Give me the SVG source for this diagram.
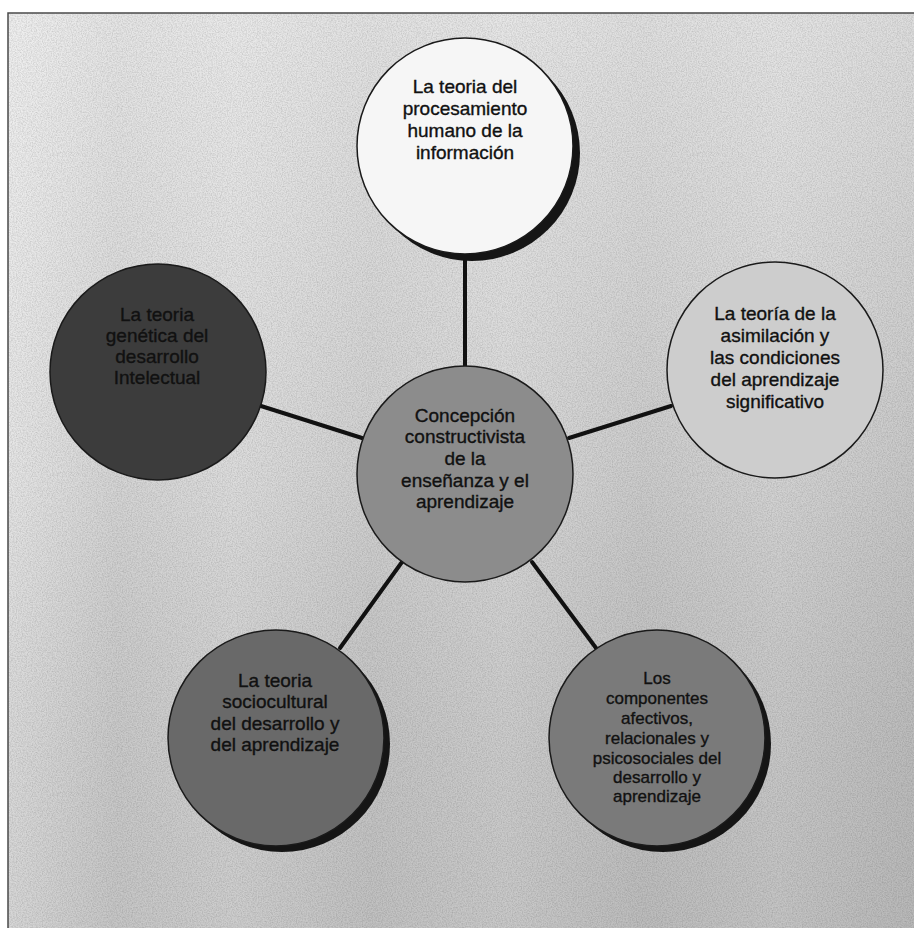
<svg xmlns="http://www.w3.org/2000/svg" width="914" height="928" viewBox="0 0 914 928">
<defs>
<linearGradient id="bg" x1="0" y1="0" x2="1" y2="0">
<stop offset="0" stop-color="#e2e2e2"/>
<stop offset="0.12" stop-color="#d0d0d0"/>
<stop offset="0.25" stop-color="#d8d8d8"/>
<stop offset="0.4" stop-color="#cbcbcb"/>
<stop offset="0.55" stop-color="#d3d3d3"/>
<stop offset="0.7" stop-color="#c6c6c6"/>
<stop offset="0.85" stop-color="#cecece"/>
<stop offset="1" stop-color="#c2c2c2"/>
</linearGradient>
<linearGradient id="bgv" x1="0" y1="0" x2="0" y2="1">
<stop offset="0" stop-color="#ffffff" stop-opacity="0.45"/>
<stop offset="0.5" stop-color="#ffffff" stop-opacity="0.1"/>
<stop offset="1" stop-color="#000000" stop-opacity="0.05"/>
</linearGradient>
<filter id="noise" x="0" y="0" width="100%" height="100%">
<feTurbulence type="fractalNoise" baseFrequency="0.8" numOctaves="2" seed="3"/>
<feColorMatrix type="matrix" values="0 0 0 0 0  0 0 0 0 0  0 0 0 0 0  1 0 0 0 -0.35"/>
</filter>
<style>
.frame{fill:none;stroke:#4a4a4a;stroke-width:1.5}
.node{stroke:#1a1a1a;stroke-width:1.5}
.shadow{fill:#151515}
.conn line{stroke:#111;stroke-width:4;stroke-linecap:round}
text{font-family:"Liberation Sans",Arial,sans-serif;font-size:19px;fill:#111;stroke:#111;stroke-width:0.35;text-anchor:middle}
.small{font-size:17px}
</style>
</defs>
<rect x="0" y="0" width="914" height="928" fill="#ffffff"/>
<rect x="8" y="13" width="906" height="915" fill="url(#bg)"/>
<rect x="8" y="13" width="906" height="915" fill="url(#bgv)"/>
<rect x="8" y="13" width="906" height="915" filter="url(#noise)" opacity="0.25"/>
<path class="frame" d="M8,928 V13 H914"/>

<g id="connectors" class="conn">
<line x1="465" y1="254" x2="465" y2="367"/>
<line x1="261" y1="406" x2="362" y2="438"/>
<line x1="569" y1="438" x2="671" y2="406"/>
<line x1="402" y1="562" x2="340" y2="648"/>
<line x1="532" y1="562" x2="596" y2="648"/>
</g>

<g id="node-top">
<circle class="shadow" cx="472" cy="153" r="108"/>
<circle class="node" cx="465" cy="146" r="108" fill="#f6f6f6"/>
<text x="465" y="93">La teoria del</text>
<text x="465" y="115">procesamiento</text>
<text x="465" y="137">humano de la</text>
<text x="465" y="159">información</text>
</g>

<g id="node-left">
<circle class="node" cx="158" cy="372" r="108" fill="#3c3c3c"/>
<text x="157" y="321">La teoria</text>
<text x="157" y="342">genética del</text>
<text x="157" y="363">desarrollo</text>
<text x="157" y="384">Intelectual</text>
</g>

<g id="node-right">
<circle class="node" cx="775" cy="370" r="108" fill="#cdcdcd"/>
<text x="775" y="320">La teoría de la</text>
<text x="775" y="342">asimilación y</text>
<text x="775" y="364">las condiciones</text>
<text x="775" y="386">del aprendizaje</text>
<text x="775" y="408">significativo</text>
</g>

<g id="node-center">
<circle class="node" cx="465" cy="474" r="108" fill="#8c8c8c"/>
<text x="465" y="422">Concepción</text>
<text x="465" y="443">constructivista</text>
<text x="465" y="465">de la</text>
<text x="465" y="487">enseñanza y el</text>
<text x="465" y="508">aprendizaje</text>
</g>

<g id="node-bottom-left">
<circle class="shadow" cx="282" cy="744" r="108"/>
<circle class="node" cx="276" cy="738" r="108" fill="#696969"/>
<text x="275" y="687">La teoria</text>
<text x="275" y="708">sociocultural</text>
<text x="275" y="730">del desarrollo y</text>
<text x="275" y="751">del aprendizaje</text>
</g>

<g id="node-bottom-right">
<circle class="shadow" cx="663" cy="744" r="108"/>
<circle class="node" cx="657" cy="738" r="108" fill="#7a7a7a"/>
<text class="small" x="657" y="684">Los</text>
<text class="small" x="657" y="704">componentes</text>
<text class="small" x="657" y="724">afectivos,</text>
<text class="small" x="657" y="744">relacionales y</text>
<text class="small" x="657" y="764">psicosociales del</text>
<text class="small" x="657" y="783">desarrollo y</text>
<text class="small" x="657" y="802">aprendizaje</text>
</g>
</svg>
